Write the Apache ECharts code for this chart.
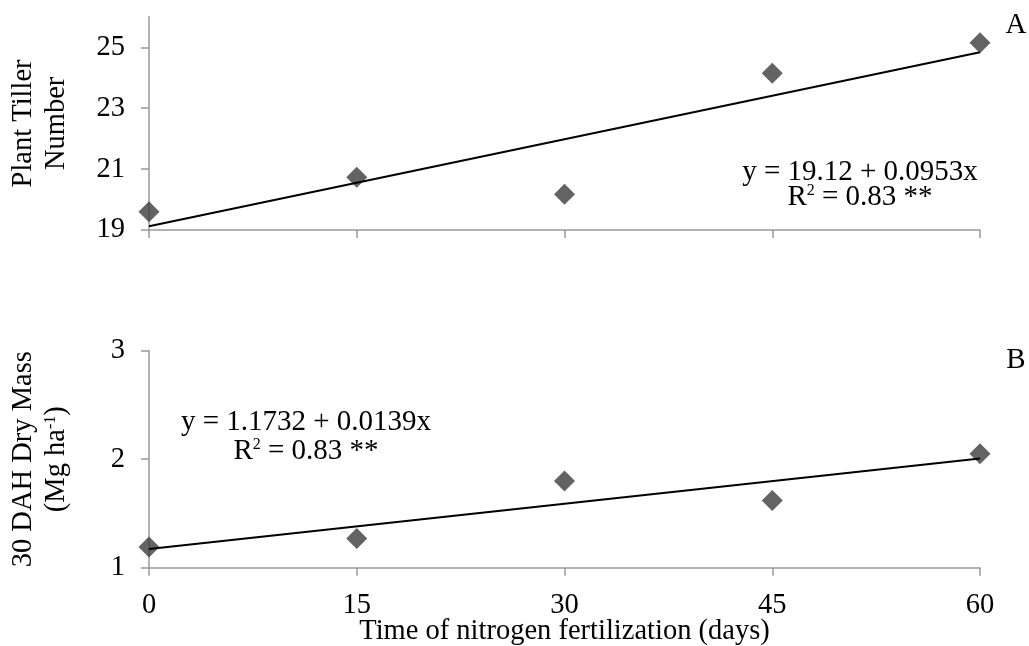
<!DOCTYPE html>
<html>
<head>
<meta charset="utf-8">
<script src="https://cdn.jsdelivr.net/npm/echarts@6/dist/echarts.min.js"></script>
<style>html,body{margin:0;padding:0;background:#fff}#c{width:1029px;height:646px}</style>
</head>
<body>
<div id="c"></div>
<script>
// ---- data ----
var xDays = [0, 15, 30, 45, 60];
var tillerNumber = [19.60, 20.73, 20.17, 24.15, 25.15];
var dryMass = [1.19, 1.27, 1.80, 1.62, 2.05];
var trendX = [0, 60];
var trendTiller = [19.12, 24.84];   // y = 19.12 + 0.0953x
var trendDryMass = [1.1732, 2.0072]; // y = 1.1732 + 0.0139x
var xTicks = [0, 15, 30, 45, 60];
var yTicksA = [19, 21, 23, 25];
var yTicksB = [1, 2, 3];

var FONT = 'Liberation Serif';
var FS = 28.5;
var FSEQ = 29;
var AXIS_COLOR = '#999999';
var MARK_COLOR = '#3c3c3c';

function pairs(xs, ys) { return xs.map(function (x, i) { return [x, ys[i]]; }); }

var chart = echarts.init(document.getElementById('c'), null, { renderer: 'canvas' });

var baseX = {
  type: 'value', min: 0, max: 60, interval: 15,
  axisLine: { lineStyle: { color: AXIS_COLOR, width: 1.5 } },
  axisTick: { show: true, length: 8, lineStyle: { color: AXIS_COLOR, width: 1.5 }, customValues: xTicks },
  splitLine: { show: false }
};
var baseY = {
  type: 'value',
  axisLine: { show: true, lineStyle: { color: AXIS_COLOR, width: 1.5 } },
  axisTick: { show: true, length: 8, lineStyle: { color: AXIS_COLOR, width: 1.5 } },
  splitLine: { show: false },
  axisLabel: { color: '#000', fontFamily: FONT, fontSize: FS, margin: 24 },
  nameLocation: 'middle', nameRotate: 90, nameGap: 76, nameMoveOverlap: false,
  nameTextStyle: { color: '#000', fontFamily: FONT, fontSize: FS, lineHeight: 33 }
};

var richEq = {
  n: { fontFamily: FONT, fontSize: FSEQ, fill: '#000', lineHeight: 32 },
  s: { fontFamily: FONT, fontSize: 16, fill: '#000', lineHeight: 32, verticalAlign: 'top', padding: [2, 0, 0, 0] }
};

var option = {
  animation: false,
  backgroundColor: '#fff',
  grid: [
    { left: 149, right: 49, top: 16.85, bottom: 416, outerBoundsMode: 'none', containLabel: false },
    { left: 149, right: 49, top: 350.7, bottom: 78.3, outerBoundsMode: 'none', containLabel: false }
  ],
  xAxis: [
    Object.assign({}, baseX, { gridIndex: 0, axisLabel: { show: false } }),
    Object.assign({}, baseX, {
      gridIndex: 1,
      axisLabel: { color: '#000', fontFamily: FONT, fontSize: FS, margin: 23, customValues: xTicks },
      name: 'Time of nitrogen fertilization (days)',
      nameLocation: 'middle', nameGap: 49, nameMoveOverlap: false,
      nameTextStyle: { color: '#000', fontFamily: FONT, fontSize: FS }
    })
  ],
  yAxis: [
    Object.assign({}, baseY, {
      gridIndex: 0, min: 19, max: 26, interval: 2,
      axisLabel: Object.assign({}, baseY.axisLabel, { customValues: yTicksA }),
      axisTick: Object.assign({}, baseY.axisTick, { customValues: yTicksA }),
      name: 'Plant Tiller\nNumber'
    }),
    Object.assign({}, baseY, {
      gridIndex: 1, min: 1, max: 3, interval: 1,
      axisLabel: Object.assign({}, baseY.axisLabel, { customValues: yTicksB }),
      axisTick: Object.assign({}, baseY.axisTick, { customValues: yTicksB }),
      name: '{n|30 DAH Dry Mass}\n{n|(Mg ha}{s|-1}{n|)}',
      nameTextStyle: {
        color: '#000', fontFamily: FONT, fontSize: FS, lineHeight: 33,
        rich: {
          n: { fontFamily: FONT, fontSize: FS, color: '#000', lineHeight: 33 },
          s: { fontFamily: FONT, fontSize: 16, color: '#000', lineHeight: 33, verticalAlign: 'top', padding: [3, 0, 0, 0] }
        }
      }
    })
  ],
  series: [
    {
      type: 'scatter', xAxisIndex: 0, yAxisIndex: 0, z: 2,
      symbol: 'diamond', symbolSize: 21,
      itemStyle: { color: MARK_COLOR },
      data: pairs(xDays, tillerNumber)
    },
    {
      type: 'line', xAxisIndex: 0, yAxisIndex: 0, z: 3,
      symbol: 'none', lineStyle: { color: '#000', width: 2 },
      data: pairs(trendX, trendTiller)
    },
    {
      type: 'scatter', xAxisIndex: 1, yAxisIndex: 1, z: 2,
      symbol: 'diamond', symbolSize: 21,
      itemStyle: { color: MARK_COLOR },
      data: pairs(xDays, dryMass)
    },
    {
      type: 'line', xAxisIndex: 1, yAxisIndex: 1, z: 3,
      symbol: 'none', lineStyle: { color: '#000', width: 2 },
      data: pairs(trendX, trendDryMass)
    }
  ],
  graphic: [
    { type: 'text', x: 860, y: 172, style: { text: '{n|y = 19.12 + 0.0953x}', rich: richEq, align: 'center', verticalAlign: 'middle' } },
    { type: 'text', x: 860, y: 197, style: { text: '{n|R}{s|2}{n| = 0.83 **}', rich: richEq, align: 'center', verticalAlign: 'middle' } },
    { type: 'text', x: 306, y: 422, style: { text: '{n|y = 1.1732 + 0.0139x}', rich: richEq, align: 'center', verticalAlign: 'middle' } },
    { type: 'text', x: 306, y: 451, style: { text: '{n|R}{s|2}{n| = 0.83 **}', rich: richEq, align: 'center', verticalAlign: 'middle' } },
    { type: 'text', x: 1016, y: 25, style: { text: 'A', font: FSEQ + 'px "' + FONT + '"', fill: '#000', align: 'center', verticalAlign: 'middle' } },
    { type: 'text', x: 1016, y: 360, style: { text: 'B', font: FSEQ + 'px "' + FONT + '"', fill: '#000', align: 'center', verticalAlign: 'middle' } }
  ]
};
chart.setOption(option);
</script>
</body>
</html>
